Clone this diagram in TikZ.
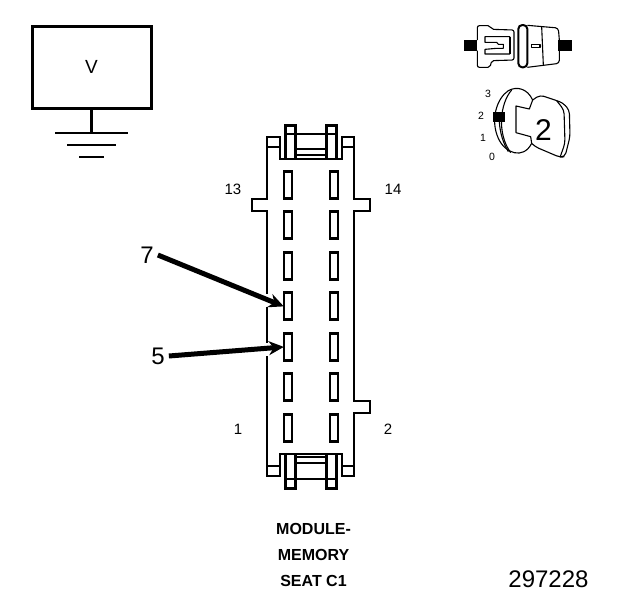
\documentclass[tikz,border=0pt]{standalone}
\usepackage{fontspec}
\setmainfont{Liberation Sans}
\usetikzlibrary{arrows.meta}
\begin{document}
\begin{tikzpicture}[x=1pt,y=-1pt,>=stealth,
    body/.style={line width=2.4pt,line cap=rect},
    latch/.style={line width=3pt},
    slotbox/.style={draw,line width=2.4pt,minimum width=8pt,minimum height=27pt,inner sep=0pt},
    pinlabel/.style={font=\fontsize{15}{15}\selectfont,inner sep=1pt},
    calllabel/.style={font=\fontsize{24}{24}\selectfont,inner sep=4pt},
    titletext/.style={font=\bfseries\fontsize{16}{16}\selectfont,inner sep=1pt},
    keylabel/.style={font=\fontsize{10.5}{10.5}\selectfont,inner sep=0pt},
    icon/.style={line width=1.1pt,line join=round},
    callarrow/.style={-{Stealth[length=15pt,width=14pt]},line width=5pt,shorten >=-1pt}]
      \useasboundingbox (0,0) rectangle (624,600);

      % Meter box and ground
      \node[draw,line width=3pt,minimum width=119pt,minimum height=82pt,inner sep=0pt,font=\fontsize{19}{19}\selectfont] (meter) at (91.5,67) {V};
      \coordinate (gnd) at (91.5,133);
      \draw[line width=3pt] (meter.south) -- (gnd);
      \draw[line width=2pt] (55,133) -- (128,133);
      \draw[line width=2pt] (67,145) -- (116,145);
      \draw[line width=2pt] (79,157) -- (104,157);

      % Connector outline
      \draw[body] (267,293) -- (267,211) -- (252,211) -- (252,199) -- (267,199) -- (267,137) -- (280,137) -- (280,159) -- (342,159) -- (342,137) -- (354,137) -- (354,199) -- (370,199) -- (370,211) -- (354,211) -- (354,401) -- (370,401) -- (370,413) -- (354,413) -- (354,476) -- (342,476) -- (342,454) -- (280,454) -- (280,476) -- (267,476) -- (267,357);
      \draw[body] (267,308) -- (267,342);

      % Top latch
      \draw[body] (267,147) -- (280,147);
      \draw[body] (342,147) -- (354,147);
      \draw[latch] (295,159) -- (295,125) -- (285,125) -- (285,159);
      \draw[latch] (336,159) -- (336,125) -- (326,125) -- (326,159);
      \draw[body] (285,134) -- (336,134);
      \draw[body] (295,149) -- (326,149);
      \draw[body] (295,155) -- (326,155);

      % Bottom latch
      \draw[body] (267,466) -- (280,466);
      \draw[body] (342,466) -- (354,466);
      \draw[latch] (295,454) -- (295,488) -- (285,488) -- (285,454);
      \draw[latch] (336,454) -- (336,488) -- (326,488) -- (326,454);
      \draw[body] (285,479) -- (336,479);
      \draw[body] (295,457) -- (326,457);
      \draw[body] (295,463) -- (326,463);

      % Slots
      \foreach \n/\y in {1/185,2/225,3/266,4/306,5/347,6/387,7/428} {
        \node[slotbox] (left\n) at (288,\y) {};
        \node[slotbox] (right\n) at (334,\y) {};
      }

      % Pin labels
      \node[pinlabel] (pin13) at (233,189) {13};
      \node[pinlabel] (pin14) at (393,189) {14};
      \node[pinlabel] (pin1) at (238,429) {1};
      \node[pinlabel] (pin2) at (388,429) {2};

      % Callouts
      \node[calllabel] (call7) at (147,255) {7};
      \node[calllabel] (call5) at (158,356) {5};
      \draw[callarrow] (call7.east) -- (left4.west);
      \draw[callarrow] (call5.east) -- (left5.west);

      % Title
      \node[titletext] (title1) at (313.5,529) {MODULE-};
      \node[titletext] (title2) at (313.5,555) {MEMORY};
      \node[titletext] (title3) at (313.5,581) {SEAT C1};
      \node[font=\fontsize{24}{24}\selectfont,inner sep=0pt] (number) at (548.5,579) {297228};

      % Plug icon
      \begin{scope}[shift={(440,10)},scale=1/3]
        \fill (73,90) rectangle (112,122);
        \fill (355,90) rectangle (395,122);
        \draw[icon,rounded corners=2pt] (112,90) -- (112,47) -- (150,47) -- (155,58) -- (222,60) -- (222,150) -- (155,152) -- (150,172) -- (112,172) -- (112,122);
        \draw[icon] (210,80) -- (135,80) -- (135,97) -- (170,97) -- (175,103) -- (190,103) -- (190,115) -- (170,115) -- (135,118) -- (135,132) -- (210,132);
        \draw[icon] (210,80) -- (210,132);
        \draw[line width=2pt,rounded corners=4pt] (235,45) rectangle (262,172);
        \draw[icon,rounded corners=3pt] (262,46) -- (355,54) -- (358,90);
        \draw[icon,rounded corners=3pt] (358,122) -- (358,160) -- (262,172);
        \draw[icon] (305,50) -- (310,165);
        \draw[icon] (275,103) rectangle (300,113);

        % Key icon
        \draw[icon] (278,270) .. controls (262,235) and (230,228) .. (205,242) .. controls (170,265) and (150,330) .. (175,385) .. controls (195,430) and (250,450) .. (275,400);
        \draw[icon] (215,240) .. controls (180,280) and (170,370) .. (212,428);
        \draw[icon] (178,335) .. controls (180,370) and (190,400) .. (205,425);
        \draw[icon] (278,270) -- (268,297) -- (228,288) -- (228,368) -- (272,380) -- (275,400);
        \draw[icon,rounded corners=4pt] (278,270) -- (300,255) -- (368,278) -- (388,300) -- (390,380) -- (375,440) -- (360,442) -- (285,410) -- (275,400);
        \draw[icon,rounded corners=4pt] (350,272) -- (372,300) -- (375,400) -- (360,442);
        \fill (160,307) rectangle (195,335);
      \end{scope}
      \node[font=\fontsize{30}{30}\selectfont,inner sep=0pt] (keynum) at (543.5,130.5) {2};
      \node[keylabel] (key3) at (488,94) {3};
      \node[keylabel] (key2) at (481,116) {2};
      \node[keylabel] (key1) at (483,138) {1};
      \node[keylabel] (key0) at (492,157) {0};
    \end{tikzpicture}
\end{document}
